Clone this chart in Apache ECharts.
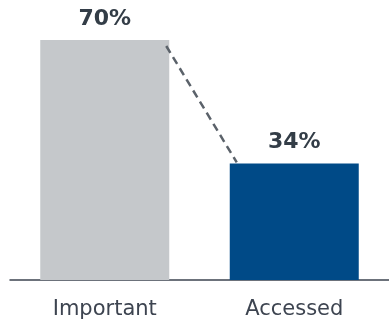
<!DOCTYPE html>
<html>
<head>
<meta charset="utf-8">
<script src="https://cdn.jsdelivr.net/npm/echarts@6/dist/echarts.min.js"></script>
<style>
  html, body { margin: 0; padding: 0; background: #fff; }
  #main { width: 389px; height: 320px; }
</style>
</head>
<body>
<div id="main"></div>
<script>
// chart data
const categories = ['Important', 'Accessed'];
const values = [70, 34];
const barColors = ['#c5c8cb', '#004a87'];

const textColor = '#333d47';
const barW = 129;

const chart = echarts.init(document.getElementById('main'));

chart.setOption({
  animation: false,
  grid: { left: 10, right: -5, top: 40, bottom: 39 },
  xAxis: {
    type: 'category',
    data: categories,
    axisTick: { show: false },
    axisLine: { lineStyle: { color: '#3d4450', width: 1.5 } },
    axisLabel: {
      color: '#3d4450',
      fontFamily: 'DejaVu Sans',
      fontSize: 21,
      margin: 19
    }
  },
  yAxis: {
    type: 'value',
    min: 0,
    max: 70,
    show: false
  },
  series: [
    {
      type: 'bar',
      barWidth: barW,
      data: values.map((v, i) => ({ value: v, itemStyle: { color: barColors[i] } })),
      label: {
        show: true,
        position: 'top',
        distance: 10,
        formatter: '{c}%',
        color: textColor,
        fontFamily: 'DejaVu Sans',
        fontWeight: 'bold',
        fontSize: 22
      },
      z: 2
    },
    {
      // dashed connector between bar tops
      type: 'custom',
      data: [[0, values[0], 1, values[1]]],
      z: 3,
      renderItem: (params, api) => {
        const p1 = api.coord([api.value(0), api.value(1)]);
        const p2 = api.coord([api.value(2), api.value(3)]);
        return {
          type: 'line',
          shape: {
            x1: p1[0] + barW / 2 - 3,
            y1: p1[1] + 6,
            x2: p2[0] - barW / 2 + 7,
            y2: p2[1] - 1
          },
          style: {
            stroke: '#5b626a',
            lineWidth: 2.5,
            lineDash: [8, 5]
          }
        };
      }
    }
  ]
});
</script>
</body>
</html>
